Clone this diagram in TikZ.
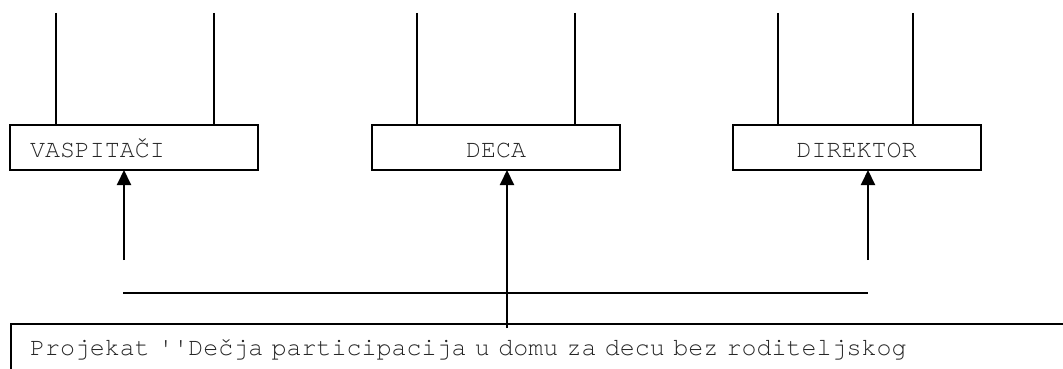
\documentclass[tikz,border=0pt]{standalone}
\usepackage{fontspec}
\newfontfamily\cour{TeX Gyre Cursor}
\usetikzlibrary{arrows.meta}
\newcommand\sq{\char39\relax}
\begin{document}
\begin{tikzpicture}[x=1pt,y=-1pt,
  ln/.style={line width=2pt,black},
  arr/.style={ln,-{Triangle[length=15pt,width=14pt]}},
  boxnode/.style={draw,line width=2pt,minimum width=248pt,minimum height=45pt,
    inner sep=0pt,outer sep=0pt,text height=22pt,text depth=3pt,
    font=\cour\fontsize{25pt}{30pt}\selectfont,text=black!85}
]
\useasboundingbox (0,0) rectangle (1063,369);
\clip (0,0) rectangle (1063,369);
% boxes
\node[boxnode,text width=208pt,align=left] (b1) at (134,147.5) {VASPITAČI};
\node[boxnode] (b2) at (496,147.5) {DECA};
\node[boxnode] (b3) at (856.5,147.5) {DIREKTOR};
\node[draw,line width=2pt,anchor=north west,inner xsep=19pt,inner ysep=0pt,outer sep=0pt,
  text width=1100pt,align=left,text height=31pt,text depth=60pt,
  font=\cour\fontsize{25pt}{30pt}\selectfont,text=black!85] (b4) at (11,324)
  {Projekat \sq\sq Dečja participacija u domu za decu bez roditeljskog};
% top lines
\coordinate (t1a) at (56,13);
\coordinate (t1b) at (214,13);
\coordinate (t2a) at (417,13);
\coordinate (t2b) at (575,13);
\coordinate (t3a) at (778,13);
\coordinate (t3b) at (913,13);
\draw[ln] (t1a) -- (t1a |- b1.north);
\draw[ln] (t1b) -- (t1b |- b1.north);
\draw[ln] (t2a) -- (t2a |- b2.north);
\draw[ln] (t2b) -- (t2b |- b2.north);
\draw[ln] (t3a) -- (t3a |- b3.north);
\draw[ln] (t3b) -- (t3b |- b3.north);
% arrows
\coordinate (a1) at (124,260);
\coordinate (a2) at (507,328);
\coordinate (a3) at (868,260);
\draw[arr] (a1) -- (a1 |- b1.south);
\draw[arr] (a2) -- (a2 |- b2.south);
\draw[arr] (a3) -- (a3 |- b3.south);
% horizontal line
\coordinate (h1) at (123,292.5);
\coordinate (h2) at (868,292.5);
\draw[ln] (h1) -- (h2);
\end{tikzpicture}
\end{document}
